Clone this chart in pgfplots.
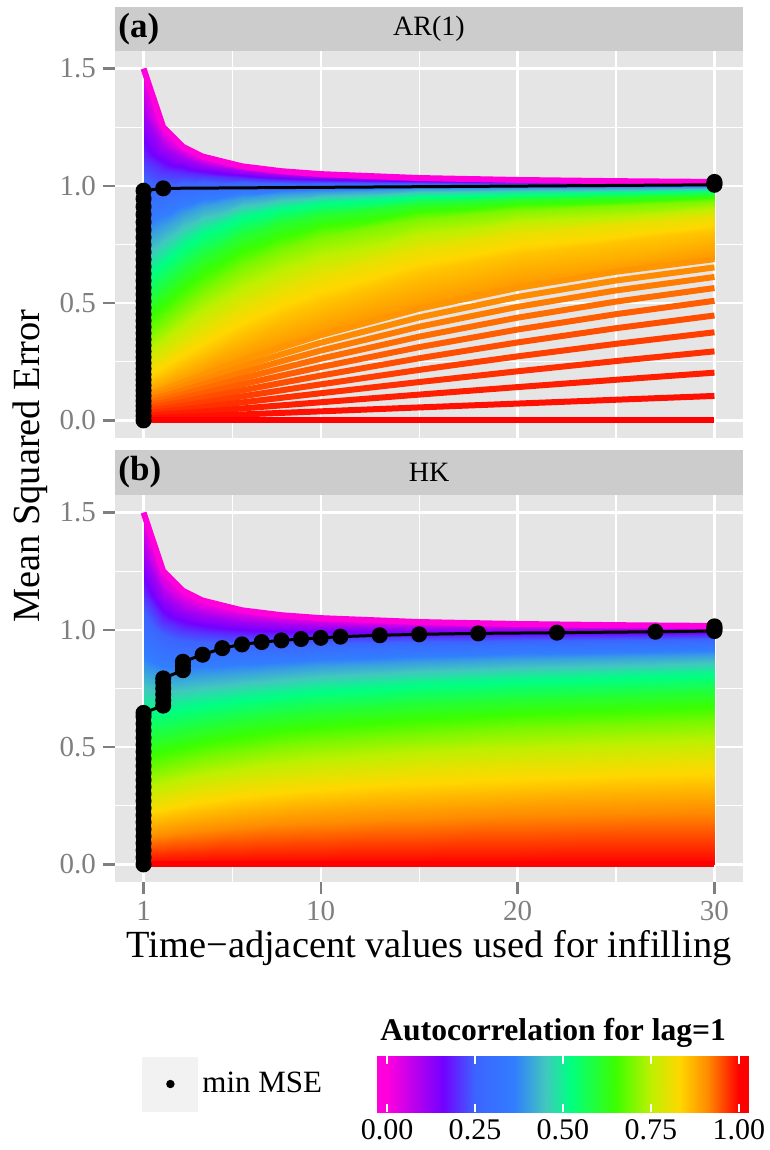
\documentclass[border=0pt]{standalone}
\usepackage{fontspec}
\setmainfont{Liberation Serif}
\usepackage{pgfplots}
\usepackage{pgfplotstable}
\pgfplotsset{compat=1.18}
\definecolor{panelbg}{HTML}{E5E5E5}
\definecolor{stripbg}{HTML}{CCCCCC}
\definecolor{tickgray}{HTML}{7F7F7F}
\definecolor{keybg}{HTML}{F2F2F2}
\pgfplotsset{colormap={ggr}{rgb255(0cm)=(255,0,220); rgb255(16cm)=(115,0,255); rgb255(25cm)=(60,100,255); rgb255(36cm)=(50,125,255); rgb255(45cm)=(65,200,190); rgb255(52cm)=(0,255,130); rgb255(65cm)=(60,255,0); rgb255(75cm)=(190,240,0); rgb255(83cm)=(255,215,0); rgb255(91cm)=(255,140,0); rgb255(100cm)=(255,0,0)}}

\pgfplotstableread{
k mse r
1 1.5 0
2 1.25 0
3 1.1667 0
4 1.125 0
6 1.0833 0
8 1.0625 0
10 1.05 0
15 1.0333 0
20 1.025 0
30 1.0167 0
1 1.305 0.1
2 1.1665 0.1
3 1.1167 0.1
4 1.0899 0.1
6 1.0616 0.1
8 1.0468 0.1
10 1.0377 0.1
15 1.0254 0.1
20 1.0192 0.1
30 1.0128 0.1
1 1.12 0.2
2 1.0672 0.2
3 1.0536 0.2
4 1.0451 0.2
6 1.0339 0.2
8 1.0269 0.2
10 1.0222 0.2
15 1.0154 0.2
20 1.0118 0.2
30 1.0080 0.2
1 0.945 0.3
2 0.9540 0.3
3 0.9750 0.3
4 0.9873 0.3
6 0.9976 0.3
8 1.0008 0.3
10 1.0019 0.3
15 1.0024 0.3
20 1.0023 0.3
30 1.0018 0.3
1 0.78 0.4
2 0.8292 0.4
3 0.8790 0.4
4 0.9124 0.4
6 0.9485 0.4
8 0.9654 0.4
10 0.9745 0.4
15 0.9849 0.4
20 0.9894 0.4
30 0.9935 0.4
1 0.625 0.5
2 0.6953 0.5
3 0.7648 0.5
4 0.8165 0.5
6 0.8806 0.5
8 0.9151 0.5
10 0.9352 0.5
15 0.9600 0.5
20 0.9713 0.5
30 0.9817 0.5
1 0.48 0.6
2 0.5552 0.6
3 0.6328 0.6
4 0.6965 0.6
6 0.7858 0.6
8 0.8407 0.6
10 0.8757 0.6
15 0.9218 0.6
20 0.9434 0.6
30 0.9638 0.6
1 0.345 0.7
2 0.4120 0.7
3 0.4852 0.7
4 0.5506 0.7
6 0.6542 0.7
8 0.7277 0.7
10 0.7800 0.7
15 0.8568 0.7
20 0.8959 0.7
30 0.9333 0.7
1 0.22 0.8
2 0.2692 0.8
3 0.3259 0.8
4 0.3805 0.8
6 0.4773 0.8
8 0.5568 0.8
10 0.6211 0.8
15 0.7328 0.8
20 0.7997 0.8
30 0.8703 0.8
1 0.1613 0.85
2 0.1991 0.85
3 0.2437 0.85
4 0.2880 0.85
6 0.3707 0.85
8 0.4435 0.85
10 0.5066 0.85
15 0.6278 0.85
20 0.7099 0.85
30 0.8066 0.85
1 0.105 0.9
2 0.1305 0.9
3 0.1612 0.9
4 0.1924 0.9
6 0.2533 0.9
8 0.3104 0.9
10 0.3632 0.9
15 0.4763 0.9
20 0.5649 0.9
30 0.6876 0.9
}\arsurf

\pgfplotstableread{
k mse r
1 1.5 0
2 1.25 0
3 1.1667 0
4 1.125 0
6 1.0833 0
8 1.0625 0
10 1.05 0
15 1.0333 0
20 1.025 0
30 1.0167 0
1 1.3223 0.1
2 1.1467 0.1
3 1.0899 0.1
4 1.0625 0.1
6 1.0364 0.1
8 1.0242 0.1
10 1.0173 0.1
15 1.0088 0.1
20 1.0050 0.1
30 1.0018 0.1
1 1.1513 0.2
2 1.0365 0.2
3 1.0031 0.2
4 0.9889 0.2
6 0.9778 0.2
8 0.9743 0.2
10 0.9733 0.2
15 0.9739 0.2
20 0.9754 0.2
30 0.9784 0.2
1 0.9867 0.3
2 0.9203 0.3
3 0.9066 0.3
4 0.9039 0.3
6 0.9066 0.3
8 0.9115 0.3
10 0.9163 0.3
15 0.9262 0.3
20 0.9335 0.3
30 0.9436 0.3
1 0.8284 0.4
2 0.7991 0.4
3 0.8009 0.4
4 0.8076 0.4
6 0.8219 0.4
8 0.8342 0.4
10 0.8443 0.4
15 0.8631 0.4
20 0.8762 0.4
30 0.8938 0.4
1 0.6761 0.5
2 0.6733 0.5
3 0.6865 0.5
4 0.7001 0.5
6 0.7232 0.5
8 0.7412 0.5
10 0.7557 0.5
15 0.7820 0.5
20 0.8002 0.5
30 0.8247 0.5
1 0.5297 0.6
2 0.5438 0.6
3 0.5638 0.6
4 0.5814 0.6
6 0.6098 0.6
8 0.6313 0.6
10 0.6485 0.6
15 0.6798 0.6
20 0.7018 0.6
30 0.7316 0.6
1 0.3891 0.7
2 0.4112 0.7
3 0.4332 0.7
4 0.4518 0.7
6 0.4811 0.7
8 0.5033 0.7
10 0.5210 0.7
15 0.5537 0.7
20 0.5769 0.7
30 0.6090 0.7
1 0.2540 0.8
2 0.2760 0.8
3 0.2954 0.8
4 0.3115 0.8
6 0.3367 0.8
8 0.3560 0.8
10 0.3715 0.8
15 0.4005 0.8
20 0.4213 0.8
30 0.4508 0.8
1 0.1243 0.9
2 0.1388 0.9
3 0.1508 0.9
4 0.1608 0.9
6 0.1765 0.9
8 0.1886 0.9
10 0.1984 0.9
15 0.2170 0.9
20 0.2306 0.9
30 0.2502 0.9
1 0 1
2 0 1
3 0 1
4 0 1
6 0 1
8 0 1
10 0 1
15 0 1
20 0 1
30 0 1
}\hksurf

\pgfplotstableread{
x y m
-0.0284 0 0
0 0 0
0.1 0 0.1
0.2 0 0.2
0.3 0 0.3
0.4 0 0.4
0.5 0 0.5
0.6 0 0.6
0.7 0 0.7
0.8 0 0.8
0.9 0 0.9
1 0 1
1.0256 0 1
-0.0284 1 0
0 1 0
0.1 1 0.1
0.2 1 0.2
0.3 1 0.3
0.4 1 0.4
0.5 1 0.5
0.6 1 0.6
0.7 1 0.7
0.8 1 0.8
0.9 1 0.9
1 1 1
1.0256 1 1
}\cbar

\pgfplotsset{panel/.style={
  scale only axis, width=314pt, height=193.5pt,
  xmin=-0.45, xmax=31.45, ymin=-0.075, ymax=1.575,
  xtick={1,10,20,30}, ytick={0,0.5,1,1.5}, yticklabels={0.0,0.5,1.0,1.5},
  minor xtick={5.5,15,25}, minor ytick={0.25,0.75,1.25},
  grid=both, major grid style={white, line width=1.2pt},
  minor grid style={white, line width=0.55pt},
  axis background/.style={fill=panelbg},
  axis line style={draw=none},
  tick align=outside, major tick length=6pt, minor tick length=0pt,
  tick style={tickgray, line width=1.1pt},
  xtick pos=left, ytick pos=left,
  ticklabel style={font=\fontsize{14.5}{17}\selectfont, text=tickgray},
  /pgf/number format/assume math mode=true,
  point meta min=0, point meta max=1, clip=false}}

\begin{document}
\begin{tikzpicture}
\useasboundingbox (-57.5pt,-134pt) rectangle (327.5pt,441pt);

% ---------------- panel (a) AR(1)
\begin{axis}[panel, at={(0pt,222pt)}, anchor=south west, xticklabels={}, xmajorticks=false]
\addplot[surf, shader=interp, mesh/rows=11, mesh/cols=10, point meta=\thisrow{r}] table[x=k, y=mse] {\arsurf};
\addplot[color of colormap={0 of ggr}, line width=3pt] coordinates {(1,1.5) (2,1.25) (3,1.1667) (4,1.125) (6,1.0833) (8,1.0625) (10,1.05) (15,1.0333) (20,1.025) (25,1.02) (30,1.0167)};
\addplot[color of colormap={900 of ggr}, line width=3pt] coordinates {(1,0.105) (2,0.1305) (3,0.1612) (4,0.1924) (6,0.2533) (8,0.3104) (10,0.3632) (15,0.4763) (20,0.5649) (25,0.6339) (30,0.6876)};
\addplot[color of colormap={910 of ggr}, line width=3pt] coordinates {(1,0.0941) (2,0.1171) (3,0.1447) (4,0.1730) (6,0.2287) (8,0.2815) (10,0.3310) (15,0.4391) (20,0.5265) (25,0.5964) (30,0.6523)};
\addplot[color of colormap={920 of ggr}, line width=3pt] coordinates {(1,0.0832) (2,0.1036) (3,0.1283) (4,0.1536) (6,0.2038) (8,0.2520) (10,0.2976) (15,0.3994) (20,0.4842) (25,0.5541) (30,0.6115)};
\addplot[color of colormap={930 of ggr}, line width=3pt] coordinates {(1,0.0725) (2,0.0903) (3,0.1119) (4,0.1342) (6,0.1787) (8,0.2218) (10,0.2631) (15,0.3571) (20,0.4380) (25,0.5065) (30,0.5643)};
\addplot[color of colormap={940 of ggr}, line width=3pt] coordinates {(1,0.0618) (2,0.0771) (3,0.0957) (4,0.1149) (6,0.1534) (8,0.1910) (10,0.2275) (15,0.3123) (20,0.3874) (25,0.4530) (30,0.5099)};
\addplot[color of colormap={950 of ggr}, line width=3pt] coordinates {(1,0.0513) (2,0.0640) (3,0.0794) (4,0.0955) (6,0.1279) (8,0.1598) (10,0.1910) (15,0.2650) (20,0.3324) (25,0.3931) (30,0.4473)};
\addplot[color of colormap={960 of ggr}, line width=3pt] coordinates {(1,0.0408) (2,0.0510) (3,0.0633) (4,0.0762) (6,0.1023) (8,0.1282) (10,0.1537) (15,0.2153) (20,0.2730) (25,0.3265) (30,0.3756)};
\addplot[color of colormap={970 of ggr}, line width=3pt] coordinates {(1,0.0305) (2,0.0380) (3,0.0473) (4,0.0570) (6,0.0766) (8,0.0963) (10,0.1158) (15,0.1635) (20,0.2094) (25,0.2530) (30,0.2944)};
\addplot[color of colormap={980 of ggr}, line width=3pt] coordinates {(1,0.0202) (2,0.0252) (3,0.0314) (4,0.0378) (6,0.0509) (8,0.0641) (10,0.0773) (15,0.1100) (20,0.1420) (25,0.1732) (30,0.2035)};
\addplot[color of colormap={990 of ggr}, line width=3pt] coordinates {(1,0.0101) (2,0.0126) (3,0.0156) (4,0.0188) (6,0.0254) (8,0.0320) (10,0.0386) (15,0.0553) (20,0.0717) (25,0.0881) (30,0.1043)};
\addplot[color of colormap={1000 of ggr}, line width=3pt] coordinates {(1,0) (2,0) (3,0) (4,0) (6,0) (8,0) (10,0) (15,0) (20,0) (25,0) (30,0)};
\addplot[black, line width=1.5pt, mark=*, mark size=3.25pt, mark options={fill=black}] coordinates {
(1,0) (1,0.0202) (1,0.0408) (1,0.0618) (1,0.0832) (1,0.105) (1,0.1272) (1,0.1498) (1,0.1728) (1,0.1962) (1,0.22) (1,0.2442) (1,0.2688) (1,0.2938) (1,0.3192) (1,0.345) (1,0.3712) (1,0.3978) (1,0.4248) (1,0.4522) (1,0.48) (1,0.5082) (1,0.5368) (1,0.5658) (1,0.5952) (1,0.625) (1,0.6552) (1,0.6858) (1,0.7168) (1,0.7482) (1,0.78) (1,0.8122) (1,0.8448) (1,0.8778) (1,0.9112) (1,0.945) (1,0.9792) (2,0.9893) (30,1.0045) (30,1.0100) (30,1.0167)};
\end{axis}

% ---------------- panel (b) HK
\begin{axis}[panel, at={(0pt,0pt)}, anchor=south west,
  legend style={draw=none, fill=none, inner sep=0pt, at={(0.043,-0.522)}, anchor=west,
    font=\fontsize{15.5}{18}\selectfont, legend cell align=left}]
\addplot[surf, shader=interp, mesh/rows=11, mesh/cols=10, point meta=\thisrow{r}, forget plot] table[x=k, y=mse] {\hksurf};
\addplot[color of colormap={0 of ggr}, line width=3pt, forget plot] coordinates {(1,1.5) (2,1.25) (3,1.1667) (4,1.125) (6,1.0833) (8,1.0625) (10,1.05) (15,1.0333) (20,1.025) (25,1.02) (30,1.0167)};
\addplot[color of colormap={1000 of ggr}, line width=3pt, forget plot] coordinates {(1,0) (2,0) (3,0) (4,0) (6,0) (8,0) (10,0) (15,0) (20,0) (30,0)};
\addplot[black, line width=1.5pt, mark=*, mark size=3.25pt, mark options={fill=black},
  legend image code/.code={\fill[keybg] (0pt,-13pt) rectangle (26.5pt,13pt); \fill[black] (13.25pt,0pt) circle (1.3pt);}] coordinates {
(1,0) (1,0.03) (1,0.06) (1,0.09) (1,0.12) (1,0.15) (1,0.18) (1,0.21) (1,0.24) (1,0.27) (1,0.30) (1,0.33) (1,0.36) (1,0.39) (1,0.42) (1,0.45) (1,0.48) (1,0.51) (1,0.54) (1,0.57) (1,0.60) (1,0.63) (1,0.646)
(2,0.677) (2,0.70) (2,0.725) (2,0.75) (2,0.775) (2,0.793)
(3,0.828) (3,0.846) (3,0.864)
(4,0.894) (5,0.922) (6,0.938) (7,0.948) (8,0.955) (9,0.961) (10,0.966) (11,0.971) (13,0.977) (15,0.981) (18,0.985) (22,0.988) (27,0.992)
(30,0.995) (30,1.002) (30,1.009) (30,1.015)};
\addlegendentry{min MSE}
\end{axis}

% ---------------- colour bar
\begin{axis}[at={(131pt,-115pt)}, anchor=south west, scale only axis, width=185.5pt, height=28pt,
  xmin=-0.0284, xmax=1.0256, ymin=0, ymax=1,
  xtick={0,0.25,0.5,0.75,1}, xticklabels={0.00,0.25,0.50,0.75,1.00}, ytick=\empty,
  axis line style={draw=none}, tick align=inside, xtick pos=both, xticklabel pos=left,
  major tick length=4pt, tick style={white, line width=0.8pt}, axis on top,
  ticklabel style={font=\fontsize{15}{18}\selectfont},
  /pgf/number format/assume math mode=true,
  point meta min=0, point meta max=1]
\addplot[surf, shader=interp, mesh/rows=2, mesh/cols=13, point meta=\thisrow{m}] table[x=x, y=y] {\cbar};
\end{axis}

% ---------------- strips and titles
\fill[stripbg] (0pt,415.5pt) rectangle (314pt,437.5pt);
\fill[stripbg] (0pt,193.5pt) rectangle (314pt,216pt);
\node[anchor=west, inner sep=0pt, font=\fontsize{17.5}{20}\selectfont\bfseries] at (1.5pt,426.5pt) {(a)};
\node[font=\fontsize{14}{16}\selectfont] at (157pt,426.5pt) {AR(1)};
\node[anchor=west, inner sep=0pt, font=\fontsize{17.5}{20}\selectfont\bfseries] at (1.5pt,204.75pt) {(b)};
\node[font=\fontsize{14}{16}\selectfont] at (157pt,204.75pt) {HK};
\node[rotate=90, font=\fontsize{19.2}{22}\selectfont] at (-42.5pt,208pt) {Mean Squared Error};
\node[font=\fontsize{19.2}{22}\selectfont] at (157pt,-33pt) {Time−adjacent values used for infilling};
\node[anchor=west, inner sep=0pt, font=\fontsize{15.8}{18}\selectfont\bfseries] at (132.5pt,-75.5pt) {Autocorrelation for lag=1};
\end{tikzpicture}
\end{document}
